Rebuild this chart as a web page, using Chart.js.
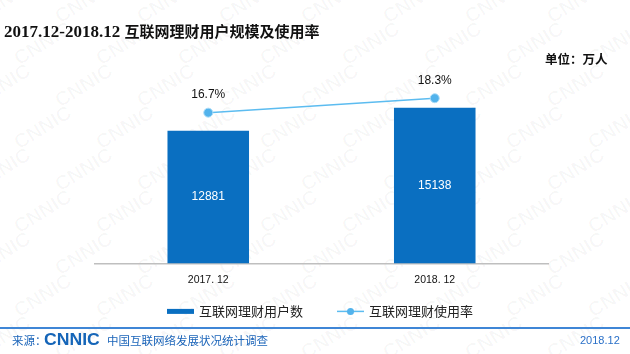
<!DOCTYPE html>
<html lang="zh">
<head>
<meta charset="utf-8">
<script src="https://cdn.jsdelivr.net/npm/chart.js@4/dist/chart.umd.min.js"></script>
<style>
  html, body { margin: 0; padding: 0; background: #fff; }
  #lienzo { position: relative; width: 630px; height: 354px; overflow: hidden; }
  #marcas { position: absolute; left: 0; top: 0; width: 630px; height: 354px; }
  #marcas span { position: absolute; font-family: 'Liberation Sans', sans-serif; font-weight: bold; font-size: 20px;
                 color: rgba(0, 0, 0, 0.032); transform: rotate(-32deg); white-space: nowrap; }
  #grafica { position: absolute; left: 0; top: 0; }
  .titulo { position: absolute; left: 4px; top: 20px; color: #111; white-space: nowrap; line-height: 22px; }
  .titulo .num { font-family: 'Liberation Serif', serif; font-size: 17px; font-weight: bold; }
  .titulo .cjk { font-family: 'Noto Sans CJK SC', sans-serif; font-size: 15px; font-weight: bold; }
  .unidad { position: absolute; left: 545px; top: 50px; font-family: 'Noto Sans CJK SC', sans-serif;
            font-size: 12.5px; font-weight: bold; color: #111; line-height: 18px; white-space: nowrap; }
  .linea-pie { position: absolute; left: 0; top: 327px; width: 630px; height: 2px; background: #3f86d6; }
  .pie { position: absolute; top: 332px; line-height: 16px; font-family: 'Noto Sans CJK SC', sans-serif;
         font-size: 11.5px; color: #1b64b9; white-space: nowrap; }
  .logo { position: absolute; left: 44px; top: 330px; font-family: 'Liberation Sans', sans-serif; font-weight: bold;
          font-size: 16px; color: #1565b8; line-height: 20px; transform: scaleX(1.1); transform-origin: left center; }
  .fecha { position: absolute; left: 580px; top: 332px; font-family: 'Liberation Sans', sans-serif; font-size: 11px;
           color: #2a70c8; line-height: 16px; }
</style>
</head>
<body>
<div id="lienzo">
  <div id="marcas"></div>
  <canvas id="grafica" width="630" height="354"></canvas>
  <div class="titulo"><span class="num">2017.12-2018.12 </span><span class="cjk">互联网理财用户规模及使用率</span></div>
  <div class="unidad">单位：万人</div>
  <div class="linea-pie"></div>
  <div class="pie" style="left:12px;">来源：</div>
  <div class="logo">CNNIC</div>
  <div class="pie" style="left:107px;">中国互联网络发展状况统计调查</div>
  <div class="fecha">2018.12</div>
</div>
<script>
// Datos
const periodos = ['2017. 12', '2018. 12'];
const usuarios = [12881, 15138];          // 万人
const tasaUso = [16.7, 18.3];             // %
const nombreUsuarios = '互联网理财用户数';
const nombreTasa = '互联网理财使用率';

const COLORES = {
  barra: '#0a6fc1',
  linea: '#5cbcf0',
  punto: '#52b3ec',
  bordePunto: '#a9dbf7',
  eje: '#bfbfbf',
  texto: '#111111'
};

// Marca de agua "CNNIC" repetida en diagonal, muy tenue
(function pintarMarcas() {
  const capa = document.getElementById('marcas');
  for (let fila = 0; fila < 9; fila++) {
    for (let col = 0; col < 9; col++) {
      const s = document.createElement('span');
      s.textContent = 'CNNIC';
      s.style.left = (col * 82 - 30 + (fila % 2) * 41) + 'px';
      s.style.top = (fila * 42 - 10) + 'px';
      capa.appendChild(s);
    }
  }
})();

// Etiquetas de valor: blancas dentro de la barra, negras encima del punto
const etiquetasValor = {
  id: 'etiquetasValor',
  afterDatasetsDraw(chart) {
    const ctx = chart.ctx;
    ctx.save();
    ctx.textAlign = 'center';
    ctx.textBaseline = 'middle';
    ctx.font = "12px 'Liberation Sans', Arial, sans-serif";
    chart.data.datasets.forEach((ds, i) => {
      const meta = chart.getDatasetMeta(i);
      meta.data.forEach((el, j) => {
        if (ds.type === 'bar') {
          ctx.fillStyle = '#ffffff';
          ctx.fillText(String(ds.data[j]), el.x, (el.y + el.base) / 2);
        } else {
          ctx.fillStyle = COLORES.texto;
          ctx.fillText(ds.data[j].toFixed(1) + '%', el.x, el.y - 18);
        }
      });
    });
    ctx.restore();
  }
};

// Leyenda propia: rectángulo plano para la barra y línea con punto para la tasa
const leyendaPropia = {
  id: 'leyendaPropia',
  afterDraw(chart) {
    const ctx = chart.ctx;
    const area = chart.chartArea;
    ctx.save();
    ctx.font = "13px 'Noto Sans CJK SC', sans-serif";
    const icono = 27, hueco = 5, separacion = 34;
    const items = chart.data.datasets.map(ds => ({ ds, ancho: ctx.measureText(ds.label).width }));
    const total = items.reduce((s, it) => s + icono + hueco + it.ancho, 0) + separacion * (items.length - 1);
    let x = (area.left + area.right) / 2 - 1.5 - total / 2;
    const y = area.bottom + 48;
    ctx.textBaseline = 'middle';
    items.forEach(({ ds, ancho }) => {
      if (ds.type === 'bar') {
        ctx.fillStyle = ds.backgroundColor;
        ctx.fillRect(x, y - 2.5, icono, 5);
      } else {
        ctx.strokeStyle = ds.borderColor;
        ctx.lineWidth = 1.5;
        ctx.beginPath();
        ctx.moveTo(x, y);
        ctx.lineTo(x + icono, y);
        ctx.stroke();
        ctx.beginPath();
        ctx.arc(x + icono / 2, y, 3.5, 0, Math.PI * 2);
        ctx.fillStyle = ds.pointBackgroundColor;
        ctx.fill();
      }
      ctx.fillStyle = '#222';
      ctx.fillText(ds.label, x + icono + hueco, y);
      x += icono + hueco + ancho + separacion;
    });
    ctx.restore();
  }
};

new Chart(document.getElementById('grafica').getContext('2d'), {
  data: {
    labels: periodos,
    datasets: [
      {
        type: 'bar',
        label: nombreUsuarios,
        data: usuarios,
        yAxisID: 'yUsuarios',
        backgroundColor: COLORES.barra,
        barPercentage: 0.36,
        categoryPercentage: 1,
        order: 1
      },
      {
        type: 'line',
        label: nombreTasa,
        data: tasaUso,
        yAxisID: 'yTasa',
        borderColor: COLORES.linea,
        borderWidth: 1.5,
        pointRadius: 4.5,
        pointBackgroundColor: COLORES.punto,
        pointBorderColor: COLORES.bordePunto,
        pointBorderWidth: 1,
        tension: 0,
        order: 0
      }
    ]
  },
  options: {
    responsive: false,
    animation: false,
    devicePixelRatio: 1,
    layout: { padding: { left: 95, right: 82, top: 57.6, bottom: 58 } },
    plugins: {
      legend: { display: false },
      tooltip: { enabled: false }
    },
    scales: {
      x: {
        grid: { display: false, drawTicks: false, tickLength: 0 },
        border: { color: COLORES.eje, width: 1.5 },
        ticks: { color: COLORES.texto, padding: 10, font: { family: "'Liberation Sans', Arial, sans-serif", size: 10.5 } }
      },
      yUsuarios: { display: false, min: 0, max: 20000 },
      yTasa: { display: false, position: 'right', min: 0, max: 22.8 }
    }
  },
  plugins: [etiquetasValor, leyendaPropia]
});
</script>
</body>
</html>
